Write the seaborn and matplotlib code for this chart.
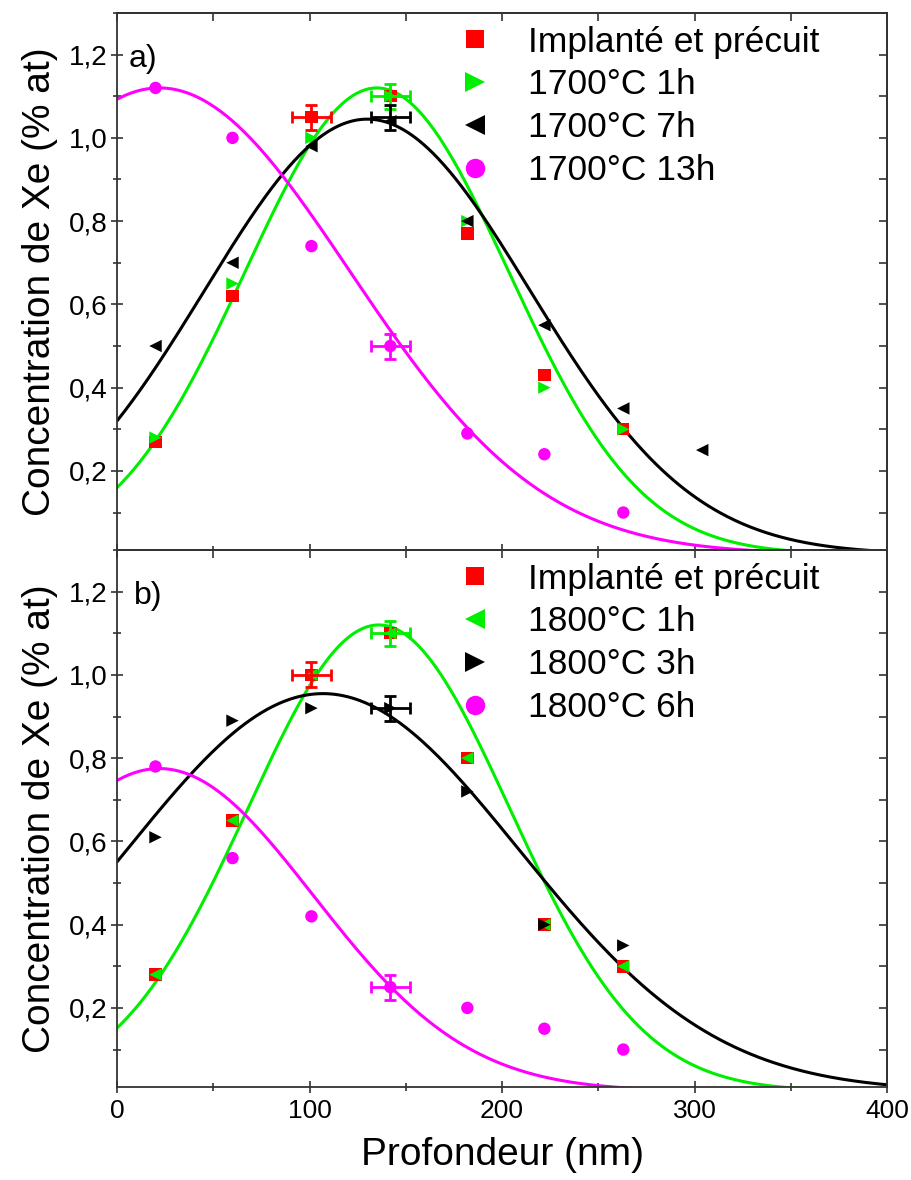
import numpy as np
import seaborn as sns
import matplotlib.pyplot as plt
from matplotlib.lines import Line2D
from matplotlib.ticker import MultipleLocator, FuncFormatter

# ---------------- Data ----------------
depth = [20, 60, 101, 142, 182, 222, 263]
depth_7h = [20, 60, 101, 142, 182, 222, 263, 304]

# panel a) 1700 C
a_implant = [0.27, 0.62, 1.05, 1.10, 0.77, 0.43, 0.30]
a_1h = [0.28, 0.65, 1.00, 1.10, 0.80, 0.40, 0.30]
a_7h = [0.50, 0.70, 0.98, 1.04, 0.80, 0.55, 0.35, 0.25]
a_13h = [1.12, 1.00, 0.74, 0.50, 0.29, 0.24, 0.10]

# panel b) 1800 C
b_implant = [0.28, 0.65, 1.00, 1.10, 0.80, 0.40, 0.30]
b_1h = [0.28, 0.65, 1.00, 1.10, 0.80, 0.40, 0.30]
b_3h = [0.61, 0.89, 0.92, 0.92, 0.72, 0.40, 0.35]
b_6h = [0.78, 0.56, 0.42, 0.25, 0.20, 0.15, 0.10]

# gaussian fits (amplitude, centre, width)
a_fits = {'1h': (1.12, 135, 68.4), '7h': (1.045, 130, 84.5), '13h': (1.12, 22, 99)}
b_fits = {'1h': (1.12, 136, 68.0), '3h': (0.955, 107, 102), '6h': (0.775, 22, 80)}

# error bars: +-10 nm and +-0.03 %
xerr, yerr = 10, 0.03

RED, GREEN, BLACK, MAGENTA = '#ff0000', '#00ee00', '#000000', '#ff00ff'

sns.set_style('ticks')
plt.rcParams['font.family'] = ['Liberation Sans', 'DejaVu Sans']
plt.rcParams['text.color'] = 'black'
plt.rcParams['axes.labelcolor'] = 'black'
plt.rcParams['xtick.color'] = '#333333'
plt.rcParams['ytick.color'] = '#333333'
plt.rcParams['xtick.labelcolor'] = 'black'
plt.rcParams['ytick.labelcolor'] = 'black'

fig, (ax1, ax2) = plt.subplots(2, 1, figsize=(9.12, 11.8), dpi=100, sharex=True)
fig.subplots_adjust(left=0.1283, right=0.9726, top=0.989, bottom=0.0788, hspace=0)

xs = np.linspace(0, 400, 401)


def gauss(p):
    A, mu, s = p
    return A * np.exp(-(xs - mu) ** 2 / (2 * s ** 2))


def panel(ax, series, fits, label, errpts, lx):
    # fitted curves
    for key, col in fits:
        sns.lineplot(x=xs, y=gauss(key), ax=ax, color=col, lw=2.2, zorder=2)
    handles = []
    for x, y, mk, col, name in series:
        sns.scatterplot(x=x, y=y, ax=ax, marker=mk, color=col, s=80,
                        edgecolor='none', zorder=3)
        handles.append(Line2D([], [], ls='none', marker=mk, color=col,
                              markersize=14 if mk != 's' else 13,
                              markeredgewidth=0, label=name))
    for x, y, col in errpts:
        ax.errorbar(x, y, xerr=xerr, yerr=yerr, fmt='none', ecolor=col,
                    elinewidth=2, capsize=4, capthick=2, zorder=4)
    ax.legend(handles=handles, loc='upper left', bbox_to_anchor=(0.40, 1.003),
              frameon=False, fontsize=25.5, handletextpad=0.5, labelspacing=0.28,
              borderaxespad=0.0, handlelength=2.0)
    ax.text(lx, 1.19, label, fontsize=23, va='center')

    ax.set_xlim(0, 400)
    ax.set_ylim(0.01, 1.3)
    ax.yaxis.set_major_locator(MultipleLocator(0.2))
    ax.yaxis.set_minor_locator(MultipleLocator(0.1))
    ax.xaxis.set_major_locator(MultipleLocator(100))
    ax.xaxis.set_minor_locator(MultipleLocator(50))
    ax.yaxis.set_major_formatter(FuncFormatter(lambda v, p: f'{v:.1f}'.replace('.', ',')))
    ax.tick_params(which='major', direction='inout', length=9, width=1.2)
    ax.tick_params(which='minor', direction='inout', length=6, width=1.2)
    ax.tick_params(axis='y', labelsize=20, pad=2)
    ax.tick_params(axis='x', labelsize=19, pad=4)
    for sp in ax.spines.values():
        sp.set_color('#333333')
        sp.set_linewidth(1.3)
    ax.set_ylabel('Concentration de Xe (% at)', fontsize=28, labelpad=8)

    top = ax.secondary_xaxis('top')
    top.xaxis.set_major_locator(MultipleLocator(100))
    top.xaxis.set_minor_locator(MultipleLocator(50))
    top.tick_params(which='both', direction='in', labeltop=False, length=6, width=1.2)
    right = ax.secondary_yaxis('right')
    right.yaxis.set_major_locator(MultipleLocator(0.2))
    right.yaxis.set_minor_locator(MultipleLocator(0.1))
    right.tick_params(which='both', direction='in', labelright=False, length=6, width=1.2)
    for sec in (top, right):
        for sp in sec.spines.values():
            sp.set_color('#333333')
            sp.set_linewidth(1.3)


panel(ax1,
      [(depth, a_implant, 's', RED, 'Implanté et précuit'),
       (depth, a_1h, '>', GREEN, '1700°C 1h'),
       (depth_7h, a_7h, '<', BLACK, '1700°C 7h'),
       (depth, a_13h, 'o', MAGENTA, '1700°C 13h')],
      [(a_fits['1h'], GREEN), (a_fits['7h'], BLACK), (a_fits['13h'], MAGENTA)],
      'a)',
      [(depth[2], a_implant[2], RED), (depth[3], a_1h[3], GREEN),
       (depth_7h[3], 1.05, BLACK), (depth[3], a_13h[3], MAGENTA)],
      6)

panel(ax2,
      [(depth, b_implant, 's', RED, 'Implanté et précuit'),
       (depth, b_1h, '<', GREEN, '1800°C 1h'),
       (depth, b_3h, '>', BLACK, '1800°C 3h'),
       (depth, b_6h, 'o', MAGENTA, '1800°C 6h')],
      [(b_fits['1h'], GREEN), (b_fits['3h'], BLACK), (b_fits['6h'], MAGENTA)],
      'b)',
      [(depth[2], b_implant[2], RED), (depth[3], b_1h[3], GREEN),
       (depth[3], b_3h[3], BLACK), (depth[3], b_6h[3], MAGENTA)],
      9)

ax1.tick_params(axis='x', labelbottom=False)
ax2.set_xlabel('Profondeur (nm)', fontsize=28, labelpad=10)

fig.savefig('out.png', dpi=100)
